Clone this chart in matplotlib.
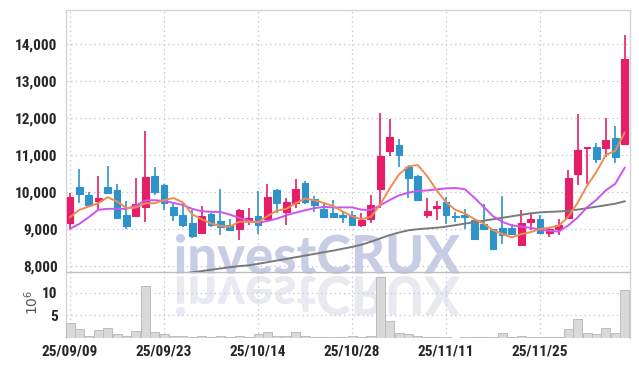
import matplotlib
matplotlib.use("Agg")
import matplotlib.pyplot as plt
import numpy as np
import pandas as pd
from matplotlib.textpath import TextPath
from matplotlib.patches import PathPatch
from matplotlib.font_manager import FontProperties
from matplotlib.transforms import Affine2D, IdentityTransform

# ---------------- data ----------------
holidays = ["2025-10-03", "2025-10-06", "2025-10-07", "2025-10-08", "2025-10-09"]
dates = [d for d in pd.bdate_range("2025-09-09", "2025-12-08") if d.strftime("%Y-%m-%d") not in holidays]

opens = [9164, 10127, 9929, 9749, 10145, 10064, 9362, 9344, 9587, 10442,
         10199, 9605, 9362, 9164, 8885, 9389, 9200, 9092, 9000, 9227,
         9345, 9255, 10045, 9455, 9709, 10245, 9818, 9545, 9427, 9373,
         9373, 9100, 9255, 10091, 11100, 11282, 10664, 10436, 9364, 9555,
         9740, 9340, 9362, 9227, 9119, 9000, 9020, 9020, 8570, 9182,
         9254, 8891, 8982, 9299, 10477, 11184, 11220, 11201, 11473, 11310]
highs = [9980, 10622, 9992, 10424, 10712, 10217, 9767, 10379, 11639, 10667,
         10217, 9713, 9695, 9497, 9632, 9425, 10082, 9263, 9542, 9569,
         10027, 10209, 10073, 9845, 10345, 10300, 9891, 9664, 9782, 9482,
         9482, 9436, 9909, 12145, 11982, 11436, 10691, 10464, 9845, 9755,
         9857, 9452, 9542, 9227, 9677, 9000, 9902, 9119, 9515, 9389,
         9362, 9045, 9272, 10586, 12099, 11211, 11328, 11990, 11790, 14255]
lows = [9010, 9695, 9641, 9515, 9965, 9290, 9000, 9317, 9182, 9929,
        9515, 9200, 9047, 8759, 8885, 9047, 8822, 8957, 8705, 9092,
        8864, 9191, 9436, 9100, 9573, 9664, 9455, 9300, 9300, 9145,
        9073, 9045, 9145, 9555, 10982, 10664, 9827, 9782, 9300, 9227,
        9119, 9182, 9000, 8714, 8984, 8435, 8579, 8822, 8552, 8957,
        8891, 8773, 8846, 9299, 10178, 10223, 10794, 10948, 10794, 11310]
closes = [9875, 9947, 9641, 9839, 9983, 9290, 9074, 9686, 10415, 10010,
          9695, 9371, 9092, 8795, 9353, 9110, 9047, 8975, 9497, 9299,
          9091, 9864, 9709, 9727, 10073, 9736, 9636, 9318, 9327, 9327,
          9091, 9236, 9645, 10982, 11500, 11000, 10364, 9782, 9482, 9609,
          9362, 9330, 9317, 8714, 8984, 8462, 8822, 8849, 9164, 9254,
          8891, 9000, 9109, 10386, 11129, 11211, 10884, 11401, 10948, 13593]

ma5 = [9317, 9515, 9605, 9695, 9857, 9740, 9565, 9574, 9690, 9695,
       9776, 9835, 9717, 9393, 9261, 9144, 9079, 9056, 9196, 9186,
       9182, 9345, 9492, 9538, 9693, 9822, 9776, 9698, 9618, 9469,
       9340, 9260, 9325, 9656, 10091, 10473, 10698, 10726, 10426, 10047,
       9720, 9513, 9420, 9266, 9141, 8961, 8860, 8766, 8856, 8910,
       8996, 9032, 9084, 9328, 9703, 10167, 10544, 11002, 11115, 11607]
ma10 = [9000, 9137, 9317, 9515, 9542, 9542, 9542, 9632, 9767, 9776,
        9758, 9700, 9646, 9541, 9478, 9460, 9457, 9386, 9295, 9223,
        9163, 9212, 9274, 9367, 9439, 9502, 9561, 9595, 9578, 9581,
        9581, 9518, 9512, 9637, 9780, 9906, 9979, 10025, 10041, 10069,
        10096, 10106, 10073, 9846, 9594, 9341, 9186, 9093, 9061, 9026,
        8979, 8946, 8925, 9092, 9307, 9582, 9788, 10043, 10221, 10655]
ma60 = [np.nan] * 12 + [
        7790, 7820, 7855, 7890, 7925, 7960, 7990, 8010,
        8050, 8095, 8140, 8185, 8230, 8275, 8320, 8365, 8410, 8460,
        8510, 8570, 8650, 8740, 8830, 8900, 8960, 8990, 9010, 9030,
        9060, 9100, 9140, 9180, 9220, 9260, 9300, 9340, 9380, 9420,
        9445, 9460, 9470, 9490, 9520, 9560, 9600, 9640, 9680, 9745]
volumes = [3.4, 2.0, 0.5, 1.8, 2.3, 0.8, 0.5, 1.6, 11.6, 1.4,
           0.8, 0.5, 0.5, 0.3, 0.4, 0.3, 0.4, 0.2, 0.4, 0.3,
           0.9, 1.4, 0.5, 0.5, 1.4, 0.5, 0.3, 0.2, 0.3, 0.2,
           0.4, 0.2, 0.5, 13.4, 3.7, 1.1, 0.8, 0.5, 0.3, 0.3,
           0.2, 0.1, 0.3, 0.3, 0.3, 0.2, 1.1, 0.2, 0.5, 0.3,
           0.2, 0.2, 0.3, 2.0, 4.3, 1.0, 0.8, 2.3, 1.0, 10.7]

price_ticks = [8000, 9000, 10000, 11000, 12000, 13000, 14000]
vol_ticks = [5, 10]
tick_every = 10

# ---------------- style ----------------
UP = "#E61E68"
DOWN = "#2E93C9"
GRID = "#C5C9DD"
TXT = "#262626"
label_font = dict(family=["Liberation Sans Narrow", "Roboto Condensed", "Roboto", "DejaVu Sans"],
                  weight="bold", stretch="condensed")

W, H = 639, 366
fig = plt.figure(figsize=(W / 100, H / 100), dpi=100)
fig.patch.set_facecolor("white")

L, R = 66, 630
TOP, MID, BOT = 10, 272, 338
ax = fig.add_axes([L / W, (H - MID) / H, (R - L) / W, (MID - TOP) / H])
axv = fig.add_axes([L / W, (H - BOT) / H, (R - L) / W, (BOT - MID) / H], sharex=ax)
for a in (ax, axv):
    a.set_facecolor("none")

x = np.arange(len(closes))
o = np.array(opens); c = np.array(closes); hi = np.array(highs); lo = np.array(lows)
up = c >= o
cols = np.where(up, UP, DOWN)

# wicks
ax.vlines(x, lo, hi, colors=cols, linewidth=1.2, zorder=3)
# bodies
bottom = np.minimum(o, c)
height = np.maximum(np.abs(c - o), 15)
ax.bar(x, height, bottom=bottom, width=0.72, color=cols, edgecolor=cols, linewidth=0.8, zorder=4)

# moving averages
ax.plot(x, ma60, color="#7a7a7a", linewidth=1.4, zorder=5)
ax.plot(x, ma10, color="#CC55EE", linewidth=1.4, zorder=5)
ax.plot(x, ma5, color="#F08C50", linewidth=1.4, zorder=5)

ax.set_xlim(-0.43, len(closes) - 0.43)
ax.set_ylim(7830, 14930)
ax.set_yticks(price_ticks)
ax.set_yticklabels([f"{v:,}" for v in price_ticks], color=TXT, fontsize=11, **label_font)
ax.tick_params(axis="y", length=0, pad=6)
ax.tick_params(axis="x", length=0, labelbottom=False)
ax.grid(True, color=GRID, linestyle=(0, (1.2, 2.5)), linewidth=0.9)
ax.set_axisbelow(True)

# volume
axv.bar(x, volumes, width=0.96, color="#D9D9D9", edgecolor="#BDBDBD", linewidth=0.7, zorder=3)
axv.set_ylim(0, 14.6)
axv.set_yticks(vol_ticks)
axv.set_yticklabels([str(v) for v in vol_ticks], color=TXT, fontsize=11, **label_font)
axv.tick_params(axis="y", length=0, pad=6)
tpos = list(range(0, len(closes), tick_every))
axv.set_xticks(tpos)
axv.set_xticklabels([dates[i].strftime("%y/%m/%d") for i in tpos], color=TXT, fontsize=11, **label_font)
axv.tick_params(axis="x", length=0, pad=5)
axv.grid(True, color=GRID, linestyle=(0, (1.2, 2.5)), linewidth=0.9)
axv.set_axisbelow(True)

for a in (ax, axv):
    for s in a.spines.values():
        s.set_color("#D4D4D4")
        s.set_linewidth(1.0)
ax.spines["bottom"].set_color("#BDBDBD")
axv.spines["top"].set_visible(False)
axv.spines["bottom"].set_visible(False)

fig.text(32 / W, 1 - 302 / H, "$10^6$", rotation=90, ha="center", va="center",
         fontsize=10, color="#555555")

# watermark and reflection
fp = FontProperties(family=["Lato", "DejaVu Sans"], weight="black")
tp = TextPath((0, 0), "investCRUX", size=1, prop=fp)
bb = tp.get_extents()
x0, x1 = 176, 460
sx = (x1 - x0) / bb.width
sy = (274 - 234) / bb.height
t_main = Affine2D().translate(-bb.x0, -bb.y0).scale(sx, sy).translate(x0, H - 274)
t_ref = Affine2D().translate(-bb.x0, -bb.y0).scale(sx, -sy).translate(x0, H - 276)
fig.add_artist(PathPatch(tp, transform=t_main + IdentityTransform(), facecolor="#C6CDE4",
                         edgecolor="none", zorder=-5))
fig.add_artist(PathPatch(tp, transform=t_ref + IdentityTransform(), facecolor="#E8E9F1",
                         edgecolor="none", zorder=-5))

fig.savefig("out.png", dpi=100)
